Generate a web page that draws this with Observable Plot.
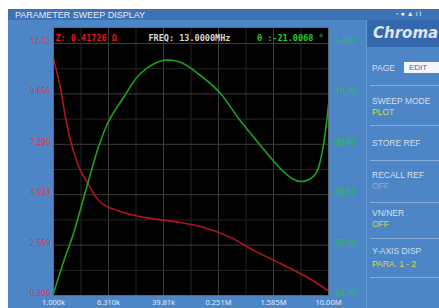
<!DOCTYPE html>
<html>
<head>
<meta charset="utf-8">
<script src="https://cdn.jsdelivr.net/npm/d3@7"></script>
<script src="https://cdn.jsdelivr.net/npm/@observablehq/plot@0.6"></script>
<style>
  html, body { margin: 0; padding: 0; }
  body { width: 439px; height: 308px; overflow: hidden; background: #fff; font-family: "Liberation Sans", Arial, sans-serif; }
  #page { position: absolute; left: 8px; top: 9px; width: 431px; height: 299px; background: #4d86c7; }
  #hdr { position: absolute; left: 8px; top: 9px; width: 431px; height: 11px; background: #3d72b6; }
  #title { position: absolute; left: 15px; top: 10px; font-size: 9px; line-height: 10px; color: #e4ebf4; white-space: nowrap; }
  #icons { position: absolute; left: 396px; top: 9px; font-size: 7px; line-height: 10px; color: #f2f5fa; white-space: nowrap; letter-spacing: 2px; }
  #chart { position: absolute; left: 0; top: 0; }
  #divider { position: absolute; left: 366px; top: 20px; width: 1px; height: 288px; background: #6a9ad2; }
  #logo { position: absolute; left: 367px; top: 20px; width: 72px; height: 27px; background: #3468ad; overflow: hidden; }
  #logo span { position: absolute; left: 6px; top: 4px; font: italic bold 15px "DejaVu Sans", sans-serif; color: #dde4ee; white-space: nowrap; }
  .lbl { position: absolute; left: 372px; font-size: 8.5px; line-height: 10px; color: #d6dee9; white-space: nowrap; }
  .val { position: absolute; left: 372px; font-size: 8.5px; line-height: 10px; color: #d2dc3c; white-space: nowrap; }
  .sep { position: absolute; left: 370px; width: 69px; height: 1px; background: #86acd9; }
  #edit { position: absolute; left: 404px; top: 62px; width: 35px; height: 11px; background: #f4f6f9; font-size: 8px; line-height: 11px; color: #3a6cb0; padding-left: 5px; box-sizing: border-box; overflow: hidden; }
</style>
</head>
<body>
<div id="page"></div>
<div id="hdr"></div>
<div id="title">PARAMETER SWEEP DISPLAY</div>
<div id="icons">▫●▲ıl</div>
<div id="divider"></div>
<div id="chart"></div>
<div id="logo"><span>Chroma</span></div>
<div class="lbl" style="top:63px">PAGE</div>
<div id="edit">EDIT</div>
<div class="sep" style="top:85px"></div>
<div class="lbl" style="top:96px">SWEEP MODE</div>
<div class="val" style="top:107px">PLOT</div>
<div class="sep" style="top:125px"></div>
<div class="lbl" style="top:138px">STORE REF</div>
<div class="sep" style="top:160px"></div>
<div class="lbl" style="top:170px">RECALL REF</div>
<div class="val" style="top:181px;color:#97a9bf">OFF</div>
<div class="sep" style="top:202px"></div>
<div class="lbl" style="top:208px">VN/NER</div>
<div class="val" style="top:219px">OFF</div>
<div class="sep" style="top:238px"></div>
<div class="lbl" style="top:246px">Y-AXIS DISP</div>
<div class="val" style="top:259px">PARA. 1 - 2</div>
<div class="sep" style="top:277px"></div>
<script>
// ---- data ----
const zFreq = [1000, 1264, 1494, 1767, 2160, 2555, 3123, 4083, 5337, 10430, 25760, 70370, 137500, 375400, 811300, 2003000, 4949000, 10000000];
const zValue = [11.32, 9.91, 8.55, 7.47, 6.54, 5.97, 5.50, 4.85, 4.47, 4.10, 3.82, 3.63, 3.44, 2.93, 2.32, 1.71, 1.05, 0.42];

const thFreq = [1000, 1445, 1954, 3229, 4512, 6310, 10430, 18430, 39810, 70370, 137500, 268600, 490900, 1025000, 2003000, 2995000, 3915000, 5472000, 6692000, 8181000, 10000000];
const thValue = [-68.2, -59.6, -53.2, -40.0, -31.6, -25.2, -19.2, -13.2, -9.9, -10.4, -13.7, -18.2, -24.4, -31.2, -37.0, -39.5, -40.2, -39.5, -38.0, -32.5, -21.0];

const xTicks = [1e3, 6.3096e3, 3.981e4, 2.512e5, 1.585e6, 1e7];
const xLabels = ["1.000k", "6.310k", "39.81k", "0.251M", "1.585M", "10.00M"];
const zTicks = [0.206, 2.569, 4.933, 7.296, 9.656, 12.02];
const zLabels = ["0.206", "2.569", "4.933", "7.296", "9.656", "12.02"];
const thTicks = [-68.70, -56.10, -43.50, -30.90, -18.30, -5.70];
const thLabels = ["-68.70", "-56.10", "-43.50", "-30.90", "-18.30", "-5.700"];

const markers = { z: "Z: 0.41726 Ω", freq: "FREQ: 13.0000MHz", th: "θ :-21.0068 °" };

// ---- scales mapping ----
const zMin = zTicks[0], zMax = zTicks[zTicks.length - 1];
const thMin = thTicks[0], thMax = thTicks[thTicks.length - 1];
const thToZ = v => zMin + (v - thMin) / (thMax - thMin) * (zMax - zMin);
// header strip inside the black area sits above the top tick
const yTop = zMax + (zMax - zMin) / 252 * 16;

const xGrid = d3.range(11).map(k => Math.pow(10, 3 + 0.4 * k));
const yGrid = d3.range(11).map(k => zMin + k * (zMax - zMin) / 10);

const zData = zFreq.map((f, i) => ({f, v: zValue[i]}));
const thData = thFreq.map((f, i) => ({f, v: thToZ(thValue[i])}));

const mono = "DejaVu Sans Mono, monospace";

const chart = Plot.plot({
  width: 439,
  height: 308,
  marginLeft: 53,
  marginRight: 111,
  marginTop: 27,
  marginBottom: 13,
  style: { background: "transparent", overflow: "visible" },
  x: { type: "log", domain: [1e3, 1e7], axis: null },
  y: { domain: [zMin, yTop], axis: null },
  marks: [
    Plot.frame({ fill: "#000" }),
    Plot.ruleX(xGrid, { stroke: (d, i) => i % 2 ? "#262626" : "#3c3c3c", strokeWidth: 1 }),
    Plot.ruleY(yGrid, { stroke: (d, i) => i % 2 ? "#262626" : "#3c3c3c", strokeWidth: 1 }),
    Plot.line(zData, { x: "f", y: "v", stroke: "#b0141c", strokeWidth: 1.6, curve: "catmull-rom" }),
    Plot.line(thData, { x: "f", y: "v", stroke: "#1ea21e", strokeWidth: 1.6, curve: "catmull-rom" }),
    Plot.frame({ stroke: "#5a6a7c", strokeWidth: 1 }),
    // left axis labels
    Plot.text(zTicks, { y: d => d, frameAnchor: "left", dx: -3, dy: -2, textAnchor: "end", text: (d, i) => zLabels[i], fill: "#e0344a", fontSize: 8 }),
    // right axis labels
    Plot.text(thTicks, { y: d => thToZ(d), frameAnchor: "right", dx: 4, dy: -2, textAnchor: "start", text: (d, i) => thLabels[i], fill: "#25c43a", fontSize: 8 }),
    // bottom axis labels
    Plot.text(xTicks, { x: d => d, frameAnchor: "bottom", dy: 9, text: (d, i) => xLabels[i], fill: "#e2e9f2", fontSize: 7.5 }),
    // marker readouts
    Plot.text([markers.z], { frameAnchor: "top-left", dx: 2, dy: 7, textAnchor: "start", text: d => d, fill: "#e01a1a", fontSize: 8.5, fontFamily: mono, fontWeight: "bold" }),
    Plot.text([markers.freq], { frameAnchor: "top-left", dx: 95, dy: 7, textAnchor: "start", text: d => d, fill: "#d8d8d8", fontSize: 8.5, fontFamily: mono, fontWeight: "bold" }),
    Plot.text([markers.th], { frameAnchor: "top-right", dx: -5, dy: 7, textAnchor: "end", text: d => d, fill: "#22d022", fontSize: 8.5, fontFamily: mono, fontWeight: "bold" })
  ]
});
document.getElementById("chart").appendChild(chart);
</script>
</body>
</html>
